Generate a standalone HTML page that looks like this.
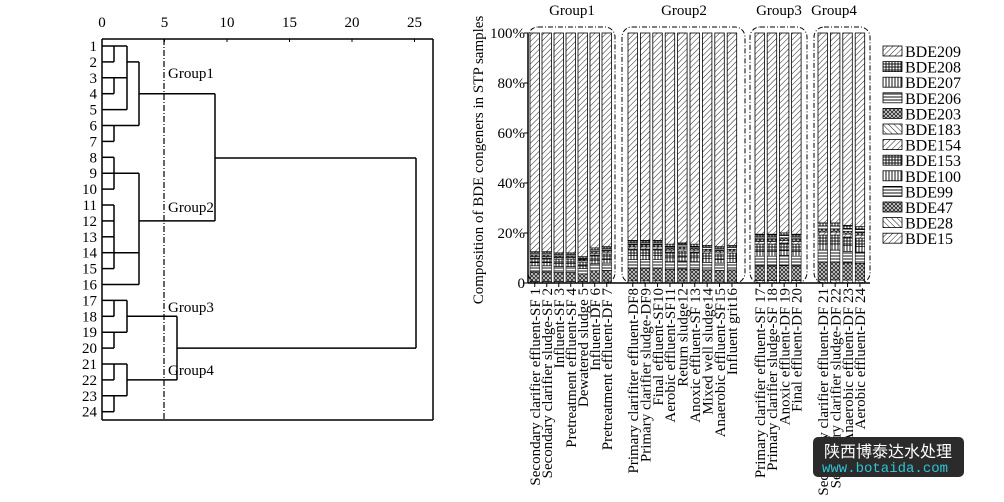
<!DOCTYPE html>
<html><head><meta charset="utf-8"><style>
html,body{margin:0;padding:0;background:#fff;}
svg{display:block;font-family:"Liberation Serif",serif;}
</style></head><body>
<svg id="s" width="1004" height="502" viewBox="0 0 1004 502" xmlns="http://www.w3.org/2000/svg">
<defs>
<pattern id="pd" width="4" height="4" patternUnits="userSpaceOnUse" patternTransform="rotate(45)"><rect width="4" height="4" fill="#fff"/><line x1="0" y1="0" x2="0" y2="4" stroke="#222" stroke-width="1"/></pattern>
<pattern id="pb" width="4" height="4" patternUnits="userSpaceOnUse" patternTransform="rotate(-45)"><rect width="4" height="4" fill="#fff"/><line x1="0" y1="0" x2="0" y2="4" stroke="#222" stroke-width="1"/></pattern>
<pattern id="ph" width="3" height="3" patternUnits="userSpaceOnUse"><rect width="3" height="3" fill="#fff"/><line x1="0" y1="1" x2="3" y2="1" stroke="#111" stroke-width="1"/></pattern>
<pattern id="pv" width="3" height="3" patternUnits="userSpaceOnUse"><rect width="3" height="3" fill="#fff"/><line x1="1" y1="0" x2="1" y2="3" stroke="#111" stroke-width="1"/></pattern>
<pattern id="pg" width="3" height="3" patternUnits="userSpaceOnUse"><rect width="3" height="3" fill="#fff"/><path d="M0 1H3M1 0V3" stroke="#111" stroke-width="1"/></pattern>
<pattern id="px" width="4" height="4" patternUnits="userSpaceOnUse"><rect width="4" height="4" fill="#ccc"/><path d="M0 0L4 4M4 0L0 4" stroke="#111" stroke-width="0.7"/></pattern>
</defs>
<g id="g"></g>
<rect x="813" y="437" width="151" height="40" rx="5" fill="#2b2b2b"/>
<text x="824" y="457" font-family="'Noto Sans CJK SC',sans-serif" font-size="16" fill="#fff">陕西博泰达水处理</text>
<text x="822" y="472" font-family="'Liberation Mono',monospace" font-size="14" fill="#2ec4d6">www.botaida.com</text>
</svg>
<script>
var o='';
function L(x1,y1,x2,y2,w,d){o+='<line x1="'+x1+'" y1="'+y1+'" x2="'+x2+'" y2="'+y2+'" stroke="#000" stroke-width="'+(w||1.5)+'"'+(d?' stroke-dasharray="'+d+'"':'')+'/>';}
function T(x,y,t,s,a,tr){o+='<text x="'+x+'" y="'+y+'" font-size="'+(s||14)+'"'+(a?' text-anchor="'+a+'"':'')+(tr?' transform="'+tr+'"':'')+'>'+t+'</text>';}
function r(i){return 46+(i-1)*15.9;}
L(102,39,433,39,1.5);L(102,39,102,420,1.5);L(433,39,433,420,1.5);L(102,420,433,420,1.5);
for(var k=0;k<=25;k+=5){var x=102+k*12.5;T(x,27,k,15,'middle');L(x,39,x,42,1);}
for(var i=1;i<=24;i++)T(97,r(i)+5,i,15,'end');
L(164,39,164,420,1.2,'6,2,1,2');
var a=114,b=127,c=139;
L(102,r(1),b,r(1));L(a,r(1),a,r(2));L(102,r(2),a,r(2));L(b,r(1),b,r(5));L(b,r(2),c,r(2));L(c,r(2),c,r(6));
L(102,r(3),b,r(3));L(a,r(3),a,r(4));L(102,r(4),a,r(4));L(c,r(4),215,r(4));L(102,r(5),b,r(5));
L(102,r(6),c,r(6));L(a,r(6),a,r(7));L(102,r(7),a,r(7));
L(215,r(4),215,r(12));L(215,158,416,158);L(416,158,416,r(20));
L(102,r(8),a,r(8));L(102,r(9),c,r(9));L(102,r(10),a,r(10));L(a,r(8),a,r(10));
for(i=11;i<=15;i++)L(102,r(i),a,r(i));L(a,r(11),a,r(15));L(a,r(14),c,r(14));L(102,r(16),c,r(16));
L(c,r(9),c,r(16));L(c,r(12),215,r(12));
[17,21].forEach(function(s){L(102,r(s),b,r(s));L(a,r(s),a,r(s+1));L(102,r(s+1),a,r(s+1));L(b,r(s+1),177,r(s+1));
L(b,r(s),b,r(s+2));L(102,r(s+2),b,r(s+2));L(a,r(s+2),a,r(s+3));L(102,r(s+3),a,r(s+3));});
L(177,r(18),177,r(22));L(177,r(20),416,r(20));
T(168,78,'Group1',15);T(168,212,'Group2',15);T(168,312,'Group3',15);T(168,375,'Group4',15);
function yv(p){return 283-p*2.5;}
var groups=[[530,12,7,12],[628,12.4,9,16],[755,12.2,4,19.5],[818,12.4,4,23]];
var tops=[[12.5,12.5,12,12,10.5,14,14.5],[17,17,17,15.5,16,15.5,15,14.5,15],[19.5,19.5,20,19.5],[24,24,23,22.5]];
var pats=['pb','px','ph','pv','pg','pd','px','ph','pg'];
var fr=[.05,.3,.2,.1,.15,.05,.05,.05,.05];
var gi,bi;
for(gi=0;gi<4;gi++){var g=groups[gi];for(bi=0;bi<g[2];bi++){var x=g[0]+bi*g[1],w=9.5,tp=tops[gi][bi];
o+='<rect x="'+x+'" y="'+yv(100)+'" width="'+w+'" height="'+(yv(tp)-yv(100))+'" fill="url(#pd)" stroke="#000" stroke-width="0.8"/>';
var acc=0;for(var s=0;s<pats.length;s++){var h=tp*fr[s];o+='<rect x="'+x+'" y="'+yv(acc+h)+'" width="'+w+'" height="'+(h*2.5)+'" fill="url(#'+pats[s]+')" stroke="#000" stroke-width="0.6"/>';acc+=h;}
L(x+w/2,283,x+w/2,287,1);}}
L(528,33,528,283,1.5);L(528,283,870,283,1.5);
for(k=0;k<=100;k+=20){T(525,yv(k)+5,k==0?'0':k+'%',15,'end');L(524,yv(k),528,yv(k),1);}
T(0,0,'Composition of BDE congeners in STP samples',15,'middle','translate(483,160) rotate(-90)');
[[528,615,'Group1',572],[622,745,'Group2',684],[750,807,'Group3',779],[814,870,'Group4',834]].forEach(function(q){
o+='<rect x="'+q[0]+'" y="27" width="'+(q[1]-q[0])+'" height="256" rx="10" fill="none" stroke="#000" stroke-width="1" stroke-dasharray="5,2,1,2"/>';T(q[3],15,q[2],15,'middle');});
var leg=['BDE209','BDE208','BDE207','BDE206','BDE203','BDE183','BDE154','BDE153','BDE100','BDE99','BDE47','BDE28','BDE15'];
var lp=['pd','pg','pv','ph','px','pb','pd','pg','pv','ph','px','pb','pd'];
for(i=0;i<13;i++){var y=51+i*15.6;o+='<rect x="883" y="'+(y-5)+'" width="19" height="10" fill="url(#'+lp[i]+')" stroke="#000" stroke-width="0.8"/>';T(905,y+6,leg[i],16);}
var labs=['Secondary clarifier effluent-SF 1','Secondary clarifier sludge-SF 2','Influent-SF 3','Pretreatment effluent-SF 4','Dewatered sludge 5','Influent-DF 6','Pretreatment effluent-DF 7',
'Primary clarifiter effluent-DF8','Primary clarifier sludge-DF9','Final effluent-SF10','Aerobic effluent-SF11','Return sludge12','Anoxic effluent-SF 13','Mixed well sludge14','Anaerobic effluent-SF15','Influent grit16',
'Primary clarifier effluent-SF 17','Primary clarifier sludge-SF 18','Anoxic effluent-DF 19','Final effluent-DF 20',
'Secondary clarifier effluent-DF 21','Secondary clarifier sludge-DF 22','Anaerobic effluent-DF 23','Aerobic effluent-DF 24'];
var n=0;for(gi=0;gi<4;gi++){var g=groups[gi];for(bi=0;bi<g[2];bi++){var x=g[0]+bi*g[1]+10;T(0,0,labs[n++],15,'end','translate('+x+',288) rotate(-90)');}}
document.getElementById('g').innerHTML=o;
</script>
</body></html>
